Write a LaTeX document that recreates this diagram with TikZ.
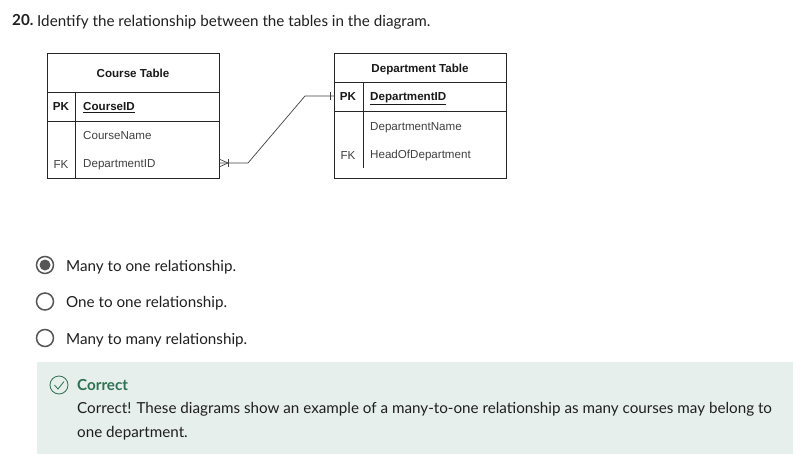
\documentclass[tikz,border=0pt]{standalone}
\usepackage{fontspec}
\setmainfont{Lato}
\newfontfamily\tablefont{Liberation Sans}
\definecolor{inktext}{RGB}{31, 31, 31}
\definecolor{radiogray}{RGB}{86, 86, 86}
\definecolor{panelgreen}{RGB}{230, 239, 236}
\definecolor{okgreen}{RGB}{46, 112, 82}
\usetikzlibrary{positioning, calc}
\tikzset{
  tablebox/.style={draw=black!85, line width=0.8pt, minimum width=172pt, minimum height=125pt, inner sep=0pt},
  tabletitle/.style={font=\tablefont\fontsize{11.6}{13}\selectfont\bfseries, text=black!90},
  fieldkey/.style={font=\tablefont\fontsize{11.6}{13}\selectfont, text=black!75, inner sep=0pt},
  keybold/.style={fieldkey, font=\tablefont\fontsize{11.6}{13}\selectfont\bfseries, text=black!90},
  fieldname/.style={fieldkey, anchor=west},
  fieldprime/.style={keybold, anchor=west},
  relline/.style={draw=black!75, line width=0.7pt},
  radiobtn/.style={circle, draw=radiogray, line width=1.5pt, minimum size=17pt, inner sep=0pt},
  answer/.style={font=\fontsize{15.2}{18}\selectfont, text=inktext, anchor=west, inner sep=0pt},
  feedback/.style={font=\fontsize{15.2}{24}\selectfont, text=inktext, anchor=north west, inner sep=0pt, align=left},
}
\begin{document}
\begin{tikzpicture}[x=1pt, y=-1pt]
  \useasboundingbox (0,0) rectangle (802,470);

  % Question
  \node[font=\fontsize{15.2}{18}\selectfont\bfseries, text=inktext, anchor=base west, inner sep=0pt] (qnum) at (12, 26) {20.};
  \node[font=\fontsize{15.2}{18}\selectfont, text=inktext, anchor=base west, inner sep=0pt] (qtext) at (37, 27) {Identify the relationship between the tables in the diagram.};

  % Course table
  \node[tablebox] (course) at (133, 115.5) {};
  \draw[line width=0.8pt, black!85] (47, 92) -- (219, 92);
  \draw[line width=0.8pt, black!85] (47, 121) -- (219, 121);
  \draw[line width=0.8pt, black!85] (75, 92) -- (75, 178);
  \node[tabletitle] (coursetitle) at (133, 73) {Course Table};
  \node[keybold] (coursepk) at (61, 107) {PK};
  \node[fieldprime] (courseid) at (83, 108) {\underline{CourseID}};
  \node[fieldname] (coursename) at (83, 135.5) {CourseName};
  \node[fieldkey] (coursefk) at (61, 165) {FK};
  \node[fieldname] (coursedept) at (83, 165) {DepartmentID};

  % Department table
  \node[tablebox] (dept) at (420, 115.5) {};
  \draw[line width=0.8pt, black!85] (334, 82) -- (506, 82);
  \draw[line width=0.8pt, black!85] (334, 111) -- (506, 111);
  \draw[line width=0.8pt, black!85] (363, 82) -- (363, 168);
  \node[tabletitle] (depttitle) at (420, 69.5) {Department Table};
  \node[keybold] (deptpk) at (348, 97) {PK};
  \node[fieldprime] (deptid) at (370, 99) {\underline{DepartmentID}};
  \node[fieldname] (deptname) at (370, 127.5) {DepartmentName};
  \node[fieldkey] (deptfk) at (348, 156) {FK};
  \node[fieldname] (depthead) at (370, 156) {HeadOfDepartment};

  % Relationship
  \coordinate (manyend) at (219, 163);
  \coordinate (oneend) at (334, 96);
  \draw[relline] (manyend) -- ++(29, 0) -- ($(oneend)+(-29, 0)$) -- (oneend);
  \draw[relline] ($(manyend)+(0, -4)$) -- ++(9, 4) -- ++(-9, 4);
  \draw[relline] ($(manyend)+(9, -4)$) -- ++(0, 8);
  \draw[relline] ($(oneend)+(-4, -4)$) -- ++(0, 8);

  % Answers
  \node[radiobtn] (optone) at (45, 265) {};
  \fill[radiogray] (optone) circle (5.5pt);
  \node[answer] (optonetext) at (66, 267) {Many to one relationship.};
  \node[radiobtn] (opttwo) at (45, 301.5) {};
  \node[answer] (opttwotext) at (66, 303) {One to one relationship.};
  \node[radiobtn] (optthree) at (45, 338) {};
  \node[answer] (optthreetext) at (66, 340) {Many to many relationship.};

  % Feedback
  \fill[panelgreen] (37, 362) rectangle (793, 454);
  \node[circle, draw=okgreen, line width=0.8pt, minimum size=18pt, inner sep=0pt] (okmark) at (59, 385) {};
  \draw[okgreen, line width=0.8pt] (54.5, 385) -- (58, 389) -- (64, 381.5);
  \node[font=\fontsize{15.2}{18}\selectfont\bfseries, text=okgreen, anchor=west, inner sep=0pt] (oktitle) at (77, 385.5) {Correct};
  \node[feedback] (oktext) at (77, 402) {Correct! These diagrams show an example of a many-to-one relationship as many courses may belong to\\one department.};
\end{tikzpicture}
\end{document}
